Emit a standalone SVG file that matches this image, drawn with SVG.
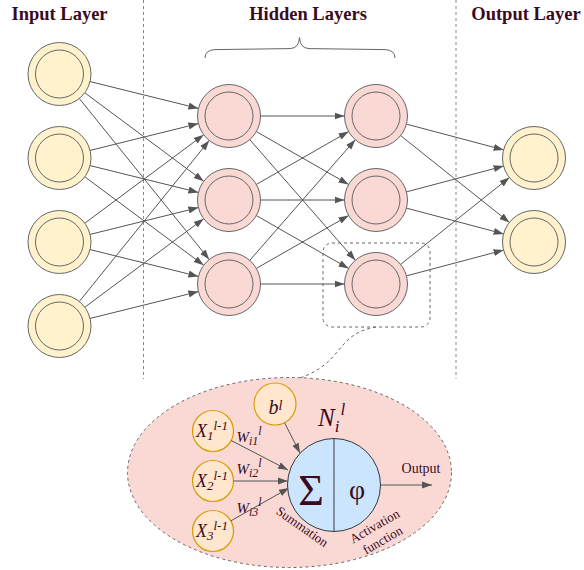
<svg xmlns="http://www.w3.org/2000/svg" width="584" height="570" viewBox="0 0 584 570">
  <style>
    .hdr { font-family: "Liberation Serif", "Times New Roman", serif; font-weight: bold; font-size: 18.5px; fill: #3b0a1f; text-anchor: middle; }
    .in circle { fill: #fff2cc; stroke: #666; stroke-width: 1; }
    .hid circle { fill: #fad9d5; stroke: #666; stroke-width: 1; }
    .edge { stroke: #555; stroke-width: 1; fill: none; marker-end: url(#arrow); }
    .sep { stroke: #888; stroke-width: 1; stroke-dasharray: 3 3; fill: none; }
    .dash { stroke: #666; stroke-width: 1; stroke-dasharray: 3 3; }
    .small { fill: #ffe6cc; stroke: #d79b00; stroke-width: 1.2; }
    .it { font-family: "Liberation Serif", "Times New Roman", serif; font-style: italic; fill: #3b0a1f; }
    .lbl { font-family: "Liberation Serif", "Times New Roman", serif; fill: #3b0a1f; }
  </style>
  <defs>
    <marker id="arrow" markerWidth="10" markerHeight="8" refX="10" refY="4" orient="auto" markerUnits="userSpaceOnUse">
      <path d="M0,0.5 L10,4 L0,7.5 Z" fill="#555"/>
    </marker>
  </defs>

  <!-- column headers -->
  <text class="hdr" x="59.5" y="20">Input Layer</text>
  <text class="hdr" x="308" y="20">Hidden Layers</text>
  <text class="hdr" x="526" y="20">Output Layer</text>

  <!-- column separators -->
  <line class="sep" x1="143.5" y1="0" x2="143.5" y2="379"/>
  <line class="sep" x1="456" y1="0" x2="456" y2="379"/>

  <!-- brace over hidden layers -->
  <path d="M205,58 Q205,50 215,49.6 L290,48.6 Q299,48.2 299.5,37.5 Q300,48.2 309,48.6 L385,49.6 Q395,50 395,58" fill="none" stroke="#666" stroke-width="1"/>

  <!-- connectors -->
  <g id="connectors">
    <line class="edge" x1="90.1" y1="81.6" x2="198.4" y2="108.4"/>
    <line class="edge" x1="84.8" y1="92.8" x2="203.7" y2="181.2"/>
    <line class="edge" x1="79.3" y1="98.5" x2="209.2" y2="259.5"/>
    <line class="edge" x1="90.1" y1="150.4" x2="198.4" y2="123.6"/>
    <line class="edge" x1="90.1" y1="165.6" x2="198.4" y2="192.4"/>
    <line class="edge" x1="84.8" y1="176.8" x2="203.7" y2="265.2"/>
    <line class="edge" x1="84.8" y1="223.2" x2="203.7" y2="134.8"/>
    <line class="edge" x1="90.1" y1="234.4" x2="198.4" y2="207.6"/>
    <line class="edge" x1="90.1" y1="249.6" x2="198.4" y2="276.4"/>
    <line class="edge" x1="79.3" y1="301.5" x2="209.2" y2="140.5"/>
    <line class="edge" x1="84.8" y1="307.2" x2="203.7" y2="218.8"/>
    <line class="edge" x1="90.1" y1="318.4" x2="198.4" y2="291.6"/>

    <line class="edge" x1="260.5" y1="116" x2="344.5" y2="116"/>
    <line class="edge" x1="256.4" y1="131.6" x2="348.6" y2="184.4"/>
    <line class="edge" x1="249.8" y1="139.7" x2="355.3" y2="260.3"/>
    <line class="edge" x1="256.4" y1="184.4" x2="348.6" y2="131.6"/>
    <line class="edge" x1="260.5" y1="200" x2="344.5" y2="200"/>
    <line class="edge" x1="256.4" y1="215.6" x2="348.6" y2="268.4"/>
    <line class="edge" x1="249.8" y1="260.3" x2="355.3" y2="139.7"/>
    <line class="edge" x1="256.4" y1="268.4" x2="348.6" y2="215.6"/>
    <line class="edge" x1="260.5" y1="284" x2="344.5" y2="284"/>

    <line class="edge" x1="406.4" y1="124.1" x2="503.6" y2="149.9"/>
    <line class="edge" x1="400.6" y1="135.6" x2="509.4" y2="222.4"/>
    <line class="edge" x1="406.4" y1="191.9" x2="503.6" y2="166.1"/>
    <line class="edge" x1="406.4" y1="208.1" x2="503.6" y2="233.9"/>
    <line class="edge" x1="400.6" y1="264.4" x2="509.4" y2="177.6"/>
    <line class="edge" x1="406.4" y1="275.9" x2="503.6" y2="250.1"/>

    <!-- zoom callout -->
    <rect class="dash" x="323" y="243" width="107" height="84" rx="9" fill="none"/>
    <path class="dash" d="M376,327 C335,334 345,362 300,378" fill="none"/>
  </g>

  <!-- input layer -->
  <g id="input1" class="in"><circle cx="59.5" cy="74" r="31.5"/><circle cx="59.5" cy="74" r="24"/></g>
  <g id="input2" class="in"><circle cx="59.5" cy="158" r="31.5"/><circle cx="59.5" cy="158" r="24"/></g>
  <g id="input3" class="in"><circle cx="59.5" cy="242" r="31.5"/><circle cx="59.5" cy="242" r="24"/></g>
  <g id="input4" class="in"><circle cx="59.5" cy="326" r="31.5"/><circle cx="59.5" cy="326" r="24"/></g>

  <!-- hidden layer 1 -->
  <g id="h1n1" class="hid"><circle cx="229" cy="116" r="31.5"/><circle cx="229" cy="116" r="24"/></g>
  <g id="h1n2" class="hid"><circle cx="229" cy="200" r="31.5"/><circle cx="229" cy="200" r="24"/></g>
  <g id="h1n3" class="hid"><circle cx="229" cy="284" r="31.5"/><circle cx="229" cy="284" r="24"/></g>

  <!-- hidden layer 2 -->
  <g id="h2n1" class="hid"><circle cx="376" cy="116" r="31.5"/><circle cx="376" cy="116" r="24"/></g>
  <g id="h2n2" class="hid"><circle cx="376" cy="200" r="31.5"/><circle cx="376" cy="200" r="24"/></g>
  <g id="h2n3" class="hid"><circle cx="376" cy="284" r="31.5"/><circle cx="376" cy="284" r="24"/></g>

  <!-- output layer -->
  <g id="output1" class="in"><circle cx="534" cy="158" r="31.5"/><circle cx="534" cy="158" r="24"/></g>
  <g id="output2" class="in"><circle cx="534" cy="242" r="31.5"/><circle cx="534" cy="242" r="24"/></g>

  <!-- single neuron detail -->
  <g id="neuron-detail">
    <ellipse class="dash" cx="289.5" cy="472.5" rx="162" ry="95" fill="#fad9d5"/>

    <g id="x1"><circle class="small" cx="213" cy="431" r="20.5"/>
      <text class="it" x="196" y="437" font-size="18">X<tspan font-size="13" dy="3">1</tspan><tspan font-size="13" dy="-10">l-1</tspan></text></g>
    <g id="x2"><circle class="small" cx="213" cy="481" r="20.5"/>
      <text class="it" x="196" y="487" font-size="18">X<tspan font-size="13" dy="3">2</tspan><tspan font-size="13" dy="-10">l-1</tspan></text></g>
    <g id="x3"><circle class="small" cx="213" cy="531" r="20.5"/>
      <text class="it" x="196" y="537" font-size="18">X<tspan font-size="13" dy="3">3</tspan><tspan font-size="13" dy="-10">l-1</tspan></text></g>
    <g id="bias"><circle class="small" cx="275" cy="404" r="21"/>
      <text class="it" x="268.5" y="413.5" font-size="20">b<tspan font-size="14" dy="-4">l</tspan></text></g>

    <line class="edge" x1="231.2" y1="440.5" x2="288" y2="470"/>
    <line class="edge" x1="233.5" y1="481" x2="287.7" y2="481"/>
    <line class="edge" x1="230.8" y1="520.9" x2="289" y2="488"/>
    <line class="edge" x1="284.5" y1="422.7" x2="300" y2="453"/>
    <line class="edge" x1="380.5" y1="485" x2="432" y2="485"/>

    <text class="it" x="236.5" y="441.5" font-size="15">W<tspan font-size="12" dy="3">i1</tspan><tspan font-size="12" dy="-10">l</tspan></text>
    <text class="it" x="236.5" y="474" font-size="15">W<tspan font-size="12" dy="3">i2</tspan><tspan font-size="12" dy="-10">l</tspan></text>
    <text class="it" x="236.5" y="513" font-size="15">W<tspan font-size="12" dy="3">i3</tspan><tspan font-size="12" dy="-10">l</tspan></text>

    <g id="neuron">
      <circle cx="334" cy="485" r="46.5" fill="#cce5ff" stroke="#36393d" stroke-width="1"/>
      <line x1="334" y1="438.5" x2="334" y2="531.5" stroke="#36393d" stroke-width="1"/>
      <text class="lbl" x="311" y="505" font-size="44" text-anchor="middle">Σ</text>
      <text class="lbl" x="357" y="499" font-size="28" text-anchor="middle">φ</text>
    </g>
    <text class="it" x="318" y="426" font-size="25">N<tspan font-size="17" dy="6">i</tspan><tspan font-size="17" dx="1" dy="-17">l</tspan></text>

    <text class="lbl" x="421" y="473" font-size="14" text-anchor="middle">Output</text>
    <text class="lbl" font-size="13" text-anchor="middle" transform="translate(302,527) rotate(35)" y="4">Summation</text>
    <text class="lbl" font-size="13" text-anchor="middle" transform="translate(378.5,533) rotate(-30)"><tspan x="0" y="-3.5">Activation</tspan><tspan x="0" y="12.5">function</tspan></text>
  </g>
</svg>
